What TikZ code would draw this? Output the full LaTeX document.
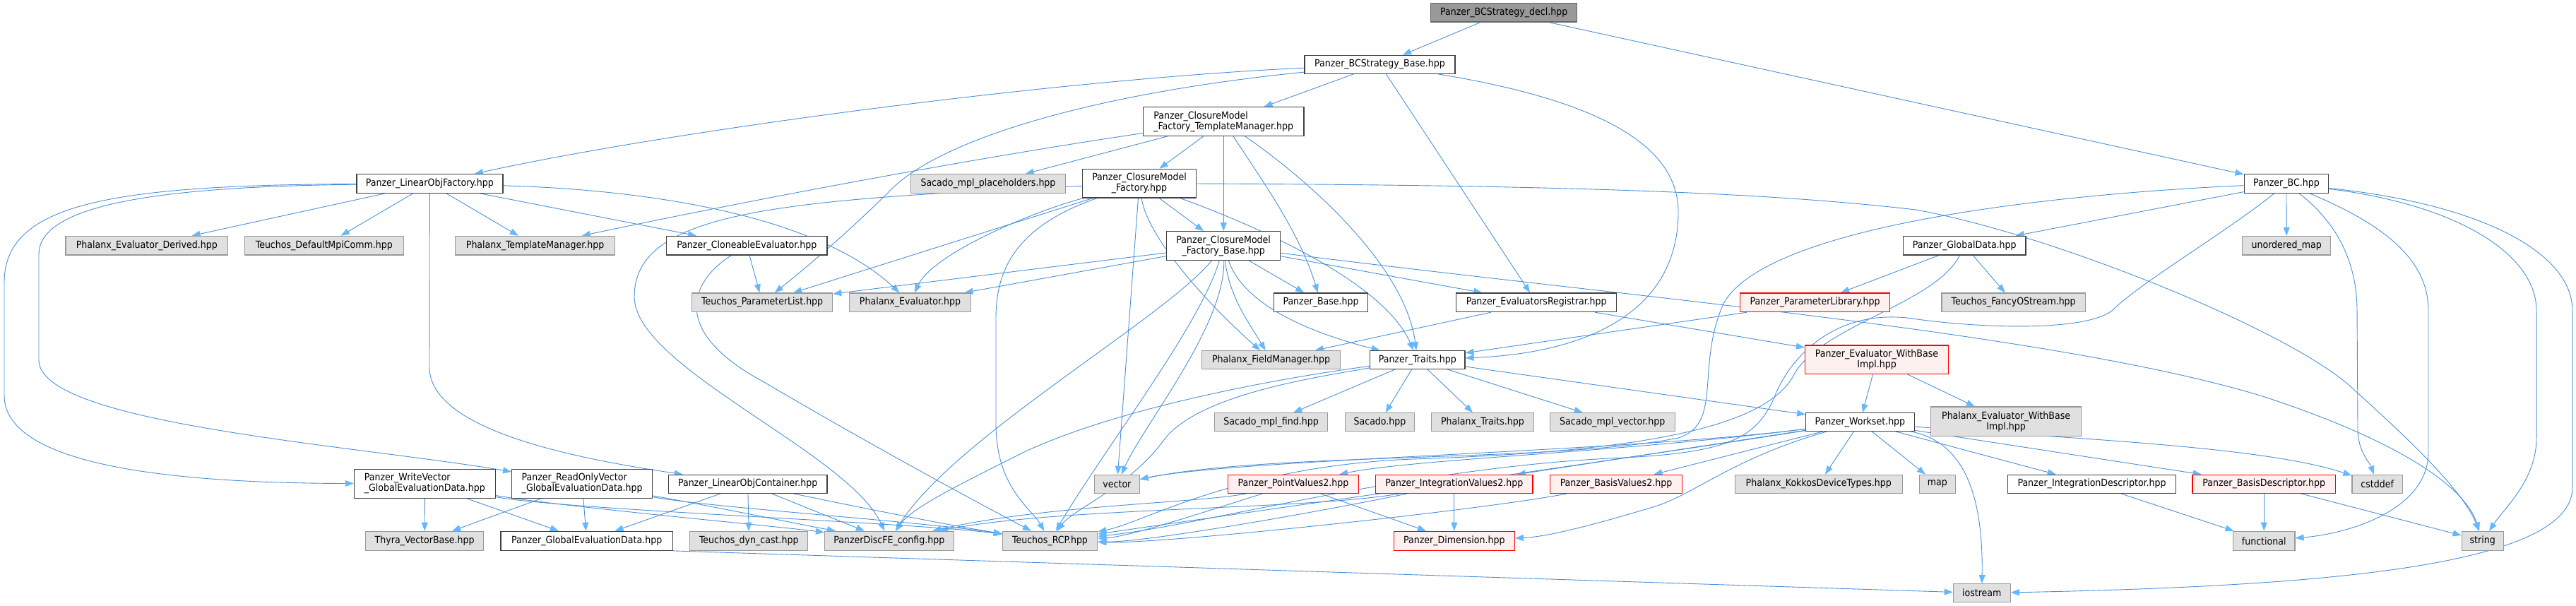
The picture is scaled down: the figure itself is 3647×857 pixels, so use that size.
\documentclass[tikz,border=0pt]{standalone}
\usepackage{fontspec}
\setmainfont{DejaVu Sans Condensed}
\usetikzlibrary{arrows.meta}
\definecolor{linec}{HTML}{4A90D9}
\definecolor{arrowc}{HTML}{63B8FF}
\definecolor{grayfill}{HTML}{E0E0E0}
\definecolor{grayline}{HTML}{999999}
\definecolor{redfill}{HTML}{FFF0F0}
\definecolor{rootfill}{HTML}{999999}
\definecolor{rootline}{HTML}{666666}
\definecolor{whiteline}{HTML}{404040}
\pgfdeclarelayer{back}
\pgfdeclarelayer{bg}
\pgfsetlayers{back,bg,main}
\newcommand\mknode[7]{\node[#1,minimum width=#5pt,minimum height=#6pt] (#2) at (#3,#4) {#7};}
\begin{document}
\begin{tikzpicture}[x=1pt,y=-1pt,
  box/.style={draw, line width=1.2pt, inner sep=0pt, font=\fontsize{14}{15}\selectfont, align=center},
  wbox/.style={box, draw=whiteline, fill=white},
  gbox/.style={box, draw=grayline, fill=grayfill},
  rbox/.style={box, draw=red, fill=redfill},
  rootbox/.style={box, draw=rootline, fill=rootfill},
  dep/.style={draw=linec, line width=0.9pt, -{Triangle[length=12pt,width=9pt,color=arrowc]}}]
\useasboundingbox (0,0) rectangle (3647,857);
\begin{pgfonlayer}{back}
\fill[white] (0,0) rectangle (3647,857);
\end{pgfonlayer}
\mknode{rootbox}{decl}{2129.2}{17.7}{207}{26.7}{Panzer\_BCStrategy\_decl.hpp}
\mknode{wbox}{base}{1953.5}{91.3}{213}{26}{Panzer\_BCStrategy\_Base.hpp}
\mknode{wbox}{bc}{3236.9}{260}{119.6}{26.7}{Panzer\_BC.hpp}
\mknode{wbox,align=left}{cmftm}{1732.2}{172}{227.7}{40.6}{Panzer\_ClosureModel\\\_Factory\_TemplateManager.hpp}
\mknode{wbox}{lof}{608.4}{260}{207}{26.7}{Panzer\_LinearObjFactory.hpp}
\mknode{gbox}{sacph}{1399}{260}{218.7}{26.7}{Sacado\_mpl\_placeholders.hpp}
\mknode{wbox}{cmf}{1613}{259.7}{161.7}{40.7}{Panzer\_ClosureModel\\\_Factory.hpp}
\mknode{gbox}{pevd}{207.9}{347.7}{229.8}{26.7}{Phalanx\_Evaluator\_Derived.hpp}
\mknode{gbox}{mpicomm}{458.9}{347.7}{224.5}{26.7}{Teuchos\_DefaultMpiComm.hpp}
\mknode{gbox}{ptm}{757.6}{347.7}{226.2}{26.7}{Phalanx\_TemplateManager.hpp}
\mknode{wbox}{clone}{1057.3}{347.7}{227.4}{26.7}{Panzer\_CloneableEvaluator.hpp}
\mknode{wbox}{cmfb}{1732.2}{348}{161.3}{40.6}{Panzer\_ClosureModel\\\_Factory\_Base.hpp}
\mknode{wbox}{glob}{2781.3}{347.7}{173.3}{26.7}{Panzer\_GlobalData.hpp}
\mknode{gbox}{umap}{3237.2}{347.7}{125}{26.7}{unordered\_map}
\mknode{gbox}{plist}{1079.2}{428.3}{198.9}{26.7}{Teuchos\_ParameterList.hpp}
\mknode{gbox}{peval}{1288.5}{428.3}{172.2}{26.7}{Phalanx\_Evaluator.hpp}
\mknode{wbox}{pbase}{1870.1}{428.3}{133.2}{26.7}{Panzer\_Base.hpp}
\mknode{wbox}{evreg}{2175.2}{428.3}{226.9}{26.7}{Panzer\_EvaluatorsRegistrar.hpp}
\mknode{rbox}{plib}{2569.5}{428.3}{211.7}{26.7}{Panzer\_ParameterLibrary.hpp}
\mknode{gbox}{fancy}{2850.7}{428.3}{203.5}{26.7}{Teuchos\_FancyOStream.hpp}
\mknode{gbox}{fm}{1799.6}{509.5}{196.2}{25.6}{Phalanx\_FieldManager.hpp}
\mknode{wbox}{traits}{2006.8}{509.5}{134.4}{25.6}{Panzer\_Traits.hpp}
\mknode{rbox}{ewbi}{2657}{509.2}{203.1}{40.3}{Panzer\_Evaluator\_WithBase\\Impl.hpp}
\mknode{gbox}{phewbi}{2840.1}{596.7}{212.6}{41.3}{Phalanx\_Evaluator\_WithBase\\Impl.hpp}
\mknode{gbox}{smfind}{1799.6}{597.5}{160.2}{25.6}{Sacado\_mpl\_find.hpp}
\mknode{gbox}{sacado}{1953.5}{597.5}{97.7}{25.6}{Sacado.hpp}
\mknode{gbox}{phtraits}{2099}{597.5}{144.3}{25.6}{Phalanx\_Traits.hpp}
\mknode{gbox}{smvec}{2282.7}{597.5}{176.9}{25.6}{Sacado\_mpl\_vector.hpp}
\mknode{wbox}{workset}{2633.4}{597.5}{153.5}{25.6}{Panzer\_Workset.hpp}
\mknode{wbox,align=left}{wv}{601.4}{684.8}{200}{41}{Panzer\_WriteVector\\\_GlobalEvaluationData.hpp}
\mknode{wbox,align=left}{rov}{824.2}{684.8}{199.1}{41}{Panzer\_ReadOnlyVector\\\_GlobalEvaluationData.hpp}
\mknode{wbox}{loc}{1058.7}{685.3}{224.5}{26}{Panzer\_LinearObjContainer.hpp}
\mknode{gbox}{vector}{1581.4}{685.3}{63.4}{26}{vector}
\mknode{rbox}{pv2}{1831}{685.3}{184.6}{26}{Panzer\_PointValues2.hpp}
\mknode{rbox}{iv2}{2058.8}{685.3}{222.2}{26}{Panzer\_IntegrationValues2.hpp}
\mknode{rbox}{bv2}{2288}{685.3}{187.3}{26}{Panzer\_BasisValues2.hpp}
\mknode{gbox}{kokkos}{2574.8}{685.3}{237.3}{26}{Phalanx\_KokkosDeviceTypes.hpp}
\mknode{gbox}{map}{2742.9}{685.3}{50.7}{26}{map}
\mknode{wbox}{intdesc}{2961.5}{685.3}{238}{26}{Panzer\_IntegrationDescriptor.hpp}
\mknode{rbox}{basisdesc}{3205.2}{685.3}{202.3}{26}{Panzer\_BasisDescriptor.hpp}
\mknode{gbox}{cstddef}{3365.6}{685.3}{71.3}{26}{cstddef}
\mknode{gbox}{thyra}{601.2}{765.8}{166.9}{27}{Thyra\_VectorBase.hpp}
\mknode{wbox}{ged}{830.7}{765.8}{243.3}{27}{Panzer\_GlobalEvaluationData.hpp}
\mknode{gbox}{dyncast}{1060.3}{765.8}{166.9}{27}{Teuchos\_dyn\_cast.hpp}
\mknode{gbox}{config}{1258.9}{765.8}{182.7}{27}{PanzerDiscFE\_config.hpp}
\mknode{gbox}{rcp}{1486.6}{765.8}{134.3}{27}{Teuchos\_RCP.hpp}
\mknode{rbox}{dim}{2058.8}{765.8}{171}{27}{Panzer\_Dimension.hpp}
\mknode{gbox}{functional}{3205.2}{765.8}{87.6}{27}{functional}
\mknode{gbox}{string}{3514.7}{765.8}{59.2}{27}{string}
\mknode{gbox}{iostream}{2805.7}{839.7}{81}{26}{iostream}
\begin{pgfonlayer}{bg}
% decl
\draw[dep] (decl) -- (base);
\draw[dep] (decl) -- (bc);
% base
\draw[dep] (base) .. controls (1500,112) and (950,185) .. (lof);
\draw[dep] (base) .. controls (1550,132) and (1340,195) .. (1265,265) .. controls (1200,330) and (1140,380) .. (plist);
\draw[dep] (base) -- (cmftm);
\draw[dep] (base) -- (evreg);
\draw[dep] (base) .. controls (2250,140) and (2376,200) .. (2376,300) .. controls (2376,440) and (2250,500) .. (traits);
% bc
\draw[dep] (bc) -- (glob);
\draw[dep] (bc) -- (umap);
\draw[dep] (bc) .. controls (3315,320) and (3337,380) .. (3337,440) -- (3338,610) .. controls (3339,640) and (3355,655) .. (cstddef);
\draw[dep] (bc) .. controls (3380,320) and (3438,370) .. (3438,440) -- (3438,640) .. controls (3438,720) and (3330,755) .. (functional);
\draw[dep] (bc) .. controls (3480,290) and (3591,360) .. (3591,440) -- (3591,620) .. controls (3591,680) and (3545,720) .. (string);
\draw[dep] (bc) .. controls (3520,290) and (3642,360) .. (3642,440) -- (3642,690) .. controls (3642,800) and (3300,830) .. (iostream);
\draw[dep] (bc) .. controls (2900,275) and (2500,320) .. (2440,430) .. controls (2400,520) and (2440,600) .. (2376,620) .. controls (2200,655) and (1800,640) .. (vector);
\draw[dep] (bc) .. controls (3150,330) and (3030,400) .. (2990,440) .. controls (2950,470) and (2800,465) .. (2700,450) .. controls (2600,440) and (2540,500) .. (2515,555) .. controls (2490,620) and (2450,640) .. (2300,648) .. controls (2000,660) and (1700,745) .. (rcp);
% glob
\draw[dep] (glob) -- (plib);
\draw[dep] (glob) -- (fancy);
\draw[dep] (glob) .. controls (2740,430) and (2580,460) .. (2540,530) .. controls (2500,610) and (2300,640) .. (2000,650) .. controls (1750,660) and (1620,740) .. (rcp);
\draw[dep] (plib) -- (traits);
\draw[dep] (evreg) -- (fm);
\draw[dep] (evreg) -- (ewbi);
% cmftm
\draw[dep] (cmftm) .. controls (1450,213) and (1150,265) .. (ptm);
\draw[dep] (cmftm) -- (sacph);
\draw[dep] (cmftm) -- (cmf);
\draw[dep] (cmftm) -- (cmfb);
\draw[dep] (cmftm) .. controls (1790,260) and (1840,330) .. (pbase);
\draw[dep] (cmftm) .. controls (1860,260) and (1990,380) .. (traits);
% lof
\draw[dep] (lof) -- (pevd);
\draw[dep] (lof) -- (mpicomm);
\draw[dep] (lof) -- (ptm);
\draw[dep] (lof) -- (clone);
\draw[dep] (lof) .. controls (900,268) and (1150,300) .. (peval);
\draw[dep] (lof) -- (608,520) .. controls (608,610) and (820,650) .. (loc);
\draw[dep] (lof) .. controls (150,262) and (6,290) .. (6,400) -- (6,560) .. controls (6,670) and (300,684) .. (wv);
\draw[dep] (lof) .. controls (250,264) and (55,285) .. (55,360) -- (55,510) .. controls (55,600) and (500,630) .. (rov);
% clone
\draw[dep] (clone) -- (plist);
\draw[dep] (clone) .. controls (975,400) and (950,470) .. (1080,540) .. controls (1250,640) and (1400,720) .. (rcp);
% cmf
\draw[dep] (cmf) -- (cmfb);
\draw[dep] (cmf) .. controls (1780,320) and (1960,400) .. (traits);
\draw[dep] (cmf) .. controls (1625,340) and (1720,440) .. (fm);
\draw[dep] (cmf) -- (vector);
\draw[dep] (cmf) -- (plist);
\draw[dep] (cmf) .. controls (1460,300) and (1320,360) .. (peval);
\draw[dep] (cmf) .. controls (1100,283) and (898,300) .. (898,420) .. controls (898,520) and (1200,640) .. (config);
\draw[dep] (cmf) .. controls (1440,320) and (1410,380) .. (1410,450) -- (1410,600) .. controls (1410,690) and (1460,720) .. (rcp);
\draw[dep] (cmf) .. controls (2200,262) and (2500,272) .. (2712,297) .. controls (2900,330) and (3250,470) .. (3334,553) .. controls (3420,630) and (3490,700) .. (string);
% cmfb
\draw[dep] (cmfb) -- (plist);
\draw[dep] (cmfb) -- (peval);
\draw[dep] (cmfb) -- (pbase);
\draw[dep] (cmfb) -- (evreg);
\draw[dep] (cmfb) .. controls (2300,420) and (2900,470) .. (3200,560) .. controls (3400,625) and (3490,690) .. (string);
\draw[dep] (cmfb) .. controls (1740,420) and (1770,460) .. (fm);
\draw[dep] (cmfb) .. controls (1760,430) and (1850,470) .. (traits);
\draw[dep] (cmfb) .. controls (1650,450) and (1350,620) .. (config);
\draw[dep] (cmfb) .. controls (1700,460) and (1560,640) .. (rcp);
\draw[dep] (cmfb) .. controls (1735,460) and (1620,600) .. (vector);
% traits
\draw[dep] (traits) -- (smfind);
\draw[dep] (traits) -- (sacado);
\draw[dep] (traits) -- (phtraits);
\draw[dep] (traits) -- (smvec);
\draw[dep] (traits) -- (workset);
\draw[dep] (traits) .. controls (1850,530) and (1600,570) .. (1450,640) .. controls (1350,690) and (1290,720) .. (config);
\draw[dep] (traits) .. controls (1850,536) and (1700,560) .. (1650,620) .. controls (1600,690) and (1520,720) .. (rcp);
% ewbi
\draw[dep] (ewbi) -- (workset);
\draw[dep] (ewbi) -- (phewbi);
% workset
\draw[dep] (workset) -- (kokkos);
\draw[dep] (workset) -- (map);
\draw[dep] (workset) .. controls (2300,640) and (2000,650) .. (pv2);
\draw[dep] (workset) -- (iv2);
\draw[dep] (workset) -- (bv2);
\draw[dep] (workset) -- (intdesc);
\draw[dep] (workset) -- (basisdesc);
\draw[dep] (workset) .. controls (2900,620) and (3200,630) .. (cstddef);
\draw[dep] (workset) .. controls (2780,625) and (2808,700) .. (iostream);
\draw[dep] (workset) .. controls (2450,650) and (2400,700) .. (2340,718) .. controls (2250,745) and (2190,760) .. (dim);
\draw[dep] (workset) .. controls (2300,640) and (1750,650) .. (vector);
\draw[dep] (workset) .. controls (2300,650) and (1700,735) .. (rcp);
% values
\draw[dep] (pv2) -- (dim);
\draw[dep] (pv2) .. controls (1700,712) and (1480,715) .. (config);
\draw[dep] (pv2) .. controls (1720,720) and (1600,760) .. (rcp);
\draw[dep] (iv2) -- (dim);
\draw[dep] (iv2) .. controls (1850,722) and (1500,718) .. (config);
\draw[dep] (iv2) .. controls (1850,728) and (1620,768) .. (rcp);
\draw[dep] (bv2) .. controls (2100,722) and (1650,770) .. (rcp);
% wv rov loc
\draw[dep] (wv) -- (thyra);
\draw[dep] (wv) -- (ged);
\draw[dep] (wv) .. controls (800,718) and (1100,745) .. (config);
\draw[dep] (wv) .. controls (800,722) and (1300,740) .. (rcp);
\draw[dep] (rov) -- (thyra);
\draw[dep] (rov) -- (ged);
\draw[dep] (rov) .. controls (1000,715) and (1120,740) .. (config);
\draw[dep] (rov) .. controls (1000,718) and (1300,738) .. (rcp);
\draw[dep] (loc) -- (dyncast);
\draw[dep] (loc) -- (config);
\draw[dep] (loc) -- (ged);
\draw[dep] (loc) .. controls (1200,715) and (1350,745) .. (rcp);
\draw[dep] (ged.south east) -- (iostream);
% descriptors
\draw[dep] (intdesc) -- (functional);
\draw[dep] (basisdesc) -- (functional);
\draw[dep] (basisdesc) -- (string);
\end{pgfonlayer}
\end{tikzpicture}
\end{document}
